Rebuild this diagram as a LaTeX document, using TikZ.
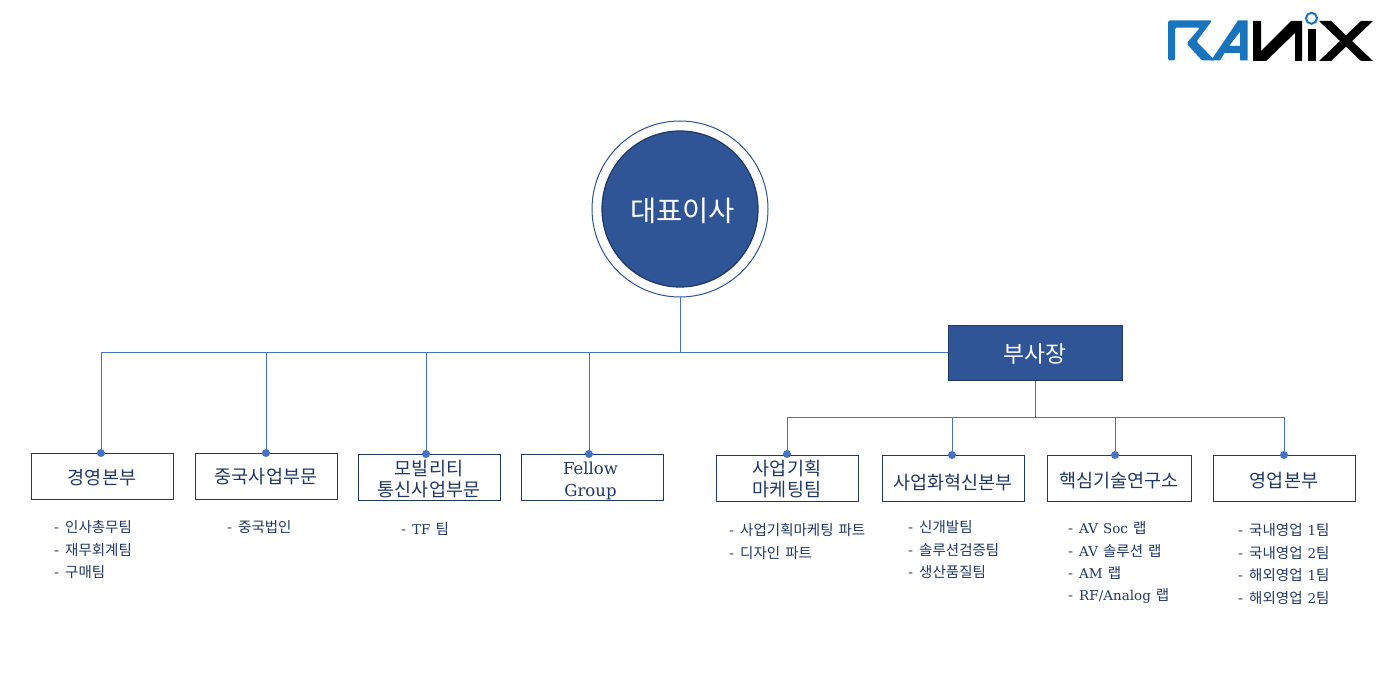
\documentclass[tikz,border=0pt]{standalone}
\usepackage{fontspec}
\setmainfont{Noto Sans CJK KR}
\newfontfamily\latfont{DejaVu Serif}
\newcommand{\lat}[1]{{\latfont\fontsize{13.5}{15}\selectfont #1}}
\newcommand{\dsh}{-\hspace{6pt}}
\newcommand{\dn}[2]{\raisebox{-#1}[\height][\depth]{#2}}
\newcommand{\itemfont}{\fontsize{14.5}{16}\selectfont\spaceskip 5pt\relax}
\definecolor{navy}{HTML}{1F3864}
\definecolor{bluefill}{HTML}{2F5597}
\definecolor{wirecol}{HTML}{4472C4}
\definecolor{logoblue}{HTML}{1874BD}
\tikzset{
  wire/.style={draw=wirecol,line width=1pt},
  dept/.style={draw=navy,line width=1pt,minimum width=142pt,minimum height=46pt,inner sep=0pt,
    align=center,text=navy,font=\fontsize{18.5}{21.5}\selectfont},
  dot/.style={circle,fill=wirecol,minimum size=8pt,inner sep=0pt},
  item/.style={anchor=west,inner sep=0pt,text=navy,font=\itemfont}
}
\begin{document}
\begin{tikzpicture}[x=1pt,y=-1pt]
  \useasboundingbox (0,0) rectangle (1391,700);

  % top
  \node (rootring)[circle,draw=bluefill,line width=1pt,fill=white,minimum size=176pt,inner sep=0pt] at (680,209) {};
  \node (root)[circle,draw=navy,line width=1.2pt,fill=bluefill,minimum size=156pt,inner sep=0pt,
    text=white,font=\fontsize{28.5}{32}\selectfont] at (680,209) {\hspace*{5pt}\dn{2pt}{대표이사}};
  \node (vp)[draw=navy,line width=1pt,fill=bluefill,minimum width=174pt,minimum height=55pt,inner sep=0pt,
    text=white,font=\fontsize{22.8}{26}\selectfont] at (1035,353) {\dn{1pt}{부사장}};

  % departments
  \node (b1)[dept] at (102,476) {\dn{2pt}{경영본부}};
  \node (b2)[dept] at (266,476) {\dn{1pt}{중국사업부문}};
  \node (b3)[dept] at (429,477) {\dn{2pt}{모빌리티}\\\dn{2pt}{통신사업부문}};
  \node (b4)[dept,font=\latfont\fontsize{16.5}{21.5}\selectfont] at (592,477) {\hspace*{-3pt}\dn{4pt}{Fellow}\\\hspace*{-3pt}\dn{4pt}{Group}};
  \node (b5)[dept] at (787,478) {\dn{1pt}{사업기획}\\\dn{1pt}{마케팅팀}};
  \node (b6)[dept] at (953,478) {\dn{4pt}{사업화혁신본부}};
  \node (b7)[dept,minimum width=144pt] at (1119,478) {\dn{3pt}{핵심기술연구소}};
  \node (b8)[dept] at (1284,478) {\dn{3pt}{영업본부}};

  \node (d1)[dot] at (101,453) {};
  \node (d2)[dot] at (266,453) {};
  \node (d3)[dot] at (426,454) {};
  \node (d4)[dot] at (589,454) {};
  \node (d5)[dot] at (787,454) {};
  \node (d6)[dot] at (952,455) {};
  \node (d7)[dot] at (1115,455) {};
  \node (d8)[dot] at (1284,455) {};

  \coordinate (busend) at (948,352);
  \coordinate (vpbus) at (1035,417);

  \draw[wire] (rootring.south) -- (rootring.south |- busend);
  \foreach \to in {d1,d2,d3,d4}
    \draw[wire] (busend) -| (\to);
  \draw[wire] (vp.south) -- (vpbus);
  \foreach \to in {d5,d6,d7,d8}
    \draw[wire] (vpbus) -| (\to);

  % team lists
  \foreach \x/\y/\txt [count=\i] in {
    54/527/\dsh 인사총무팀, 54/550/\dsh 재무회계팀, 54/572/\dsh 구매팀,
    227/527/\dsh 중국법인,
    401/529/\dsh \lat{TF} 팀,
    729/530/\dsh 사업기획마케팅 파트, 729/553/\dsh 디자인 파트,
    908/527/\dsh 신개발팀, 908/550/\dsh 솔루션검증팀, 908/572/\dsh 생산품질팀,
    1068/528/\dsh \lat{AV Soc} 랩, 1068/551/\dsh \lat{AV} 솔루션 랩, 1068/573/\dsh \lat{AM} 랩, 1068/596/\dsh \lat{RF/Analog} 랩,
    1238/530/\dsh 국내영업 \lat{1}팀, 1238/553/\dsh 국내영업 \lat{2}팀, 1238/575/\dsh 해외영업 \lat{1}팀, 1238/598/\dsh 해외영업 \lat{2}팀}
    \node (t\i)[item] at (\x,\y) {\txt};

  % logo
  \fill[logoblue,rounded corners=1.5pt] (1168,60.5) -- (1168,20.5) -- (1212,20.5) -- (1196.5,41.5) -- (1215,60.5)
    -- (1202,60.5) -- (1186.5,43.5) -- (1200,27.7) -- (1175,27.7) -- (1175,60.5) -- cycle;
  \fill[logoblue,even odd rule] (1211,60.5) -- (1238,20.5) -- (1247.5,20.5) -- (1247.5,60.5) -- (1240,60.5) -- (1240,53)
    -- (1224.5,53) -- (1220,60.5) -- cycle (1240,31.7) -- (1240,46) -- (1229,46) -- cycle;
  \fill[black] (1253,21) -- (1261,21) -- (1261,51) -- (1291,21) -- (1302,21) -- (1302,61) -- (1295,61)
    -- (1295,33) -- (1266,61) -- (1253,61) -- cycle;
  \fill[black] (1308,29) rectangle (1316,61);
  \draw[logoblue,line width=2pt] (1311.5,18.3) circle (5.5);
  \fill[black] (1319,21) -- (1331,21) -- (1373,61) -- (1361,61) -- cycle;
  \fill[black] (1361,21) -- (1373,21) -- (1331,61) -- (1319,61) -- cycle;
\end{tikzpicture}
\end{document}
